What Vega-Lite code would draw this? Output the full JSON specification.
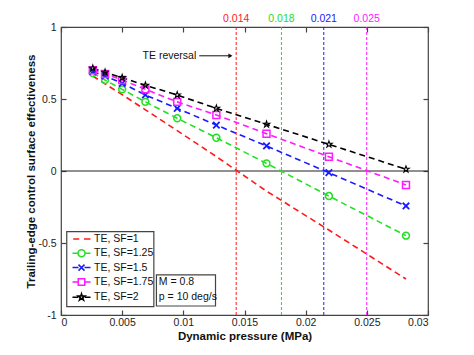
{
  "$schema": "https://vega.github.io/schema/vega-lite/v6.json",
  "width": 367,
  "height": 288,
  "autosize": {"type": "none"},
  "padding": {"left": 61, "top": 27, "right": 46, "bottom": 40},
  "background": "white",
  "config": {
    "font": "Liberation Sans",
    "view": {"stroke": "#444", "strokeWidth": 1.2},
    "axis": {
      "grid": false,
      "domain": false,
      "tickColor": "#444",
      "tickSize": -5,
      "tickWidth": 1.2,
      "labelFont": "Liberation Sans",
      "labelFontSize": 10.5,
      "labelColor": "#222",
      "titleFont": "Liberation Sans",
      "titleFontSize": 11.5,
      "titleFontWeight": "bold",
      "titleColor": "#111"
    }
  },
  "datasets": {
    "main": [
      {"q": 0.0026, "E": 0.66, "series": "TE, SF=1"},
      {"q": 0.0036, "E": 0.605, "series": "TE, SF=1"},
      {"q": 0.0050, "E": 0.53, "series": "TE, SF=1"},
      {"q": 0.0069, "E": 0.425, "series": "TE, SF=1"},
      {"q": 0.0095, "E": 0.28, "series": "TE, SF=1"},
      {"q": 0.0127, "E": 0.10, "series": "TE, SF=1"},
      {"q": 0.0168, "E": -0.14, "series": "TE, SF=1"},
      {"q": 0.0219, "E": -0.41, "series": "TE, SF=1"},
      {"q": 0.0282, "E": -0.75, "series": "TE, SF=1"},
      {"q": 0.0026, "E": 0.68, "series": "TE, SF=1.25"},
      {"q": 0.0036, "E": 0.632, "series": "TE, SF=1.25"},
      {"q": 0.0050, "E": 0.567, "series": "TE, SF=1.25"},
      {"q": 0.0069, "E": 0.48, "series": "TE, SF=1.25"},
      {"q": 0.0095, "E": 0.366, "series": "TE, SF=1.25"},
      {"q": 0.0127, "E": 0.231, "series": "TE, SF=1.25"},
      {"q": 0.0168, "E": 0.053, "series": "TE, SF=1.25"},
      {"q": 0.0219, "E": -0.174, "series": "TE, SF=1.25"},
      {"q": 0.0282, "E": -0.449, "series": "TE, SF=1.25"},
      {"q": 0.0026, "E": 0.69, "series": "TE, SF=1.5"},
      {"q": 0.0036, "E": 0.66, "series": "TE, SF=1.5"},
      {"q": 0.0050, "E": 0.609, "series": "TE, SF=1.5"},
      {"q": 0.0069, "E": 0.528, "series": "TE, SF=1.5"},
      {"q": 0.0095, "E": 0.435, "series": "TE, SF=1.5"},
      {"q": 0.0127, "E": 0.319, "series": "TE, SF=1.5"},
      {"q": 0.0168, "E": 0.174, "series": "TE, SF=1.5"},
      {"q": 0.0219, "E": -0.012, "series": "TE, SF=1.5"},
      {"q": 0.0282, "E": -0.243, "series": "TE, SF=1.5"},
      {"q": 0.0026, "E": 0.70, "series": "TE, SF=1.75"},
      {"q": 0.0036, "E": 0.674, "series": "TE, SF=1.75"},
      {"q": 0.0050, "E": 0.632, "series": "TE, SF=1.75"},
      {"q": 0.0069, "E": 0.567, "series": "TE, SF=1.75"},
      {"q": 0.0095, "E": 0.48, "series": "TE, SF=1.75"},
      {"q": 0.0127, "E": 0.389, "series": "TE, SF=1.75"},
      {"q": 0.0168, "E": 0.259, "series": "TE, SF=1.75"},
      {"q": 0.0219, "E": 0.099, "series": "TE, SF=1.75"},
      {"q": 0.0282, "E": -0.097, "series": "TE, SF=1.75"},
      {"q": 0.0026, "E": 0.713, "series": "TE, SF=2"},
      {"q": 0.0036, "E": 0.685, "series": "TE, SF=2"},
      {"q": 0.0050, "E": 0.648, "series": "TE, SF=2"},
      {"q": 0.0069, "E": 0.595, "series": "TE, SF=2"},
      {"q": 0.0095, "E": 0.528, "series": "TE, SF=2"},
      {"q": 0.0127, "E": 0.435, "series": "TE, SF=2"},
      {"q": 0.0168, "E": 0.324, "series": "TE, SF=2"},
      {"q": 0.0219, "E": 0.185, "series": "TE, SF=2"},
      {"q": 0.0282, "E": 0.012, "series": "TE, SF=2"}
    ],
    "reversal": [
      {"q": 0.01432, "label": "0.014", "series": "TE, SF=1"},
      {"q": 0.01802, "label": "0.018", "series": "TE, SF=1.25"},
      {"q": 0.02148, "label": "0.021", "series": "TE, SF=1.5"},
      {"q": 0.02499, "label": "0.025", "series": "TE, SF=1.75"}
    ],
    "one": [{}]
  },
  "resolve": {"axis": {"x": "independent", "y": "independent"}},
  "layer": [
    {
      "layer": [
        {
          "data": {"name": "reversal"},
          "mark": {"type": "rule", "strokeDash": [3, 2], "strokeWidth": 1},
          "encoding": {
            "x": {"field": "q", "type": "quantitative", "scale": {"domain": [0, 0.03], "nice": false},
                  "axis": {"title": "Dynamic pressure (MPa)", "values": [0, 0.005, 0.01, 0.015, 0.02, 0.025, 0.03], "labelExpr": "'' + datum.value", "labelPadding": 7, "titlePadding": 3}},
            "stroke": {"field": "series", "type": "nominal", "legend": null,
                      "scale": {"domain": ["TE, SF=2", "TE, SF=1.75", "TE, SF=1.5", "TE, SF=1.25", "TE, SF=1"], "range": ["#000000", "#ff1aff", "#1a1aff", "#22e022", "#ff1a1a"]}}
          }
        },
        {
          "data": {"name": "reversal"},
          "mark": {"type": "text", "baseline": "bottom", "dy": -3, "fontSize": 10.5, "clip": false},
          "encoding": {
            "x": {"field": "q", "type": "quantitative"},
            "y": {"datum": 1, "type": "quantitative"},
            "text": {"field": "label"},
            "fill": {"field": "series", "type": "nominal", "legend": null,
                     "scale": {"domain": ["TE, SF=2", "TE, SF=1.75", "TE, SF=1.5", "TE, SF=1.25", "TE, SF=1"], "range": ["#000000", "#ff1aff", "#1a1aff", "#22e022", "#ff1a1a"]}}
          }
        },
        {
          "data": {"name": "one"},
          "mark": {"type": "rule", "color": "#222", "strokeWidth": 1.1},
          "encoding": {"y": {"datum": 0, "type": "quantitative"}}
        },
        {
          "data": {"name": "main"},
          "mark": {"type": "line", "strokeDash": [6, 4], "strokeWidth": 1.6},
          "encoding": {
            "x": {"field": "q", "type": "quantitative"},
            "y": {"field": "E", "type": "quantitative", "scale": {"domain": [-1, 1], "nice": false},
                  "axis": {"title": "Trailing-edge control surface effectiveness", "values": [-1, -0.5, 0, 0.5, 1], "labelExpr": "'' + datum.value", "labelPadding": 10, "titlePadding": 1}},
            "stroke": {"field": "series", "type": "nominal", "legend": null}
          }
        },
        {
          "data": {"name": "main"},
          "transform": [{"filter": "datum.series == 'TE, SF=1.25'"}],
          "mark": {"type": "point", "filled": false, "shape": "circle", "size": 48, "strokeWidth": 1.5, "color": "#22e022", "opacity": 1},
          "encoding": {"x": {"field": "q", "type": "quantitative"}, "y": {"field": "E", "type": "quantitative"}}
        },
        {
          "data": {"name": "main"},
          "transform": [{"filter": "datum.series == 'TE, SF=1.5'"}],
          "mark": {"type": "point", "filled": false, "shape": "M-1,-1L1,1M-1,1L1,-1", "size": 42, "strokeWidth": 1.8, "color": "#1a1aff", "opacity": 1},
          "encoding": {"x": {"field": "q", "type": "quantitative"}, "y": {"field": "E", "type": "quantitative"}}
        },
        {
          "data": {"name": "main"},
          "transform": [{"filter": "datum.series == 'TE, SF=1.75'"}],
          "mark": {"type": "point", "filled": false, "shape": "square", "size": 48, "strokeWidth": 1.5, "color": "#ff1aff", "opacity": 1},
          "encoding": {"x": {"field": "q", "type": "quantitative"}, "y": {"field": "E", "type": "quantitative"}}
        },
        {
          "data": {"name": "main"},
          "transform": [{"filter": "datum.series == 'TE, SF=2'"}],
          "mark": {"type": "point", "filled": false, "shape": "M0,-1L0.225,-0.309L0.951,-0.309L0.363,0.118L0.588,0.809L0,0.382L-0.588,0.809L-0.363,0.118L-0.951,-0.309L-0.225,-0.309Z", "size": 45, "strokeWidth": 1.1, "color": "#000000", "opacity": 1},
          "encoding": {"x": {"field": "q", "type": "quantitative"}, "y": {"field": "E", "type": "quantitative"}}
        },
        {
          "data": {"name": "one"},
          "mark": {"type": "rect", "fill": "white", "stroke": "#444", "strokeWidth": 1.2},
          "encoding": {"x": {"datum": 0.00047, "type": "quantitative"}, "x2": {"datum": 0.00759}, "y": {"datum": -0.4215, "type": "quantitative"}, "y2": {"datum": -0.942}}
        },
        {
          "data": {"name": "main"},
          "mark": {"type": "point", "filled": false, "strokeWidth": 1.5, "opacity": 0},
          "encoding": {
            "x": {"field": "q", "type": "quantitative"},
            "y": {"field": "E", "type": "quantitative"},
            "color": {"field": "series", "type": "nominal",
                      "scale": {"domain": ["TE, SF=1", "TE, SF=1.25", "TE, SF=1.5", "TE, SF=1.75", "TE, SF=2"], "range": ["#ff1a1a", "#22e022", "#1a1aff", "#ff1aff", "#000000"]},
                      "legend": {"title": null, "orient": "bottom-left", "offset": 6, "padding": 5, "symbolSize": 100, "symbolStrokeWidth": 1.5, "symbolOpacity": 1, "labelFontSize": 10.5, "labelColor": "#111", "labelFont": "Liberation Sans", "labelOffset": 10, "rowPadding": 1.3}},
            "shape": {"field": "series", "type": "nominal",
                      "scale": {"domain": ["TE, SF=1", "TE, SF=1.25", "TE, SF=1.5", "TE, SF=1.75", "TE, SF=2"],
                                "range": [
                                  "M-0.95,0H0.25M1.2,0H2.5",
                                  "M-1.1,0H0M1.4,0H2.5M1.4,0A0.7,0.7,0,1,1,0,0A0.7,0.7,0,1,1,1.4,0",
                                  "M-1.1,0H0.1M1.3,0H2.5M0.1,-0.6L1.3,0.6M0.1,0.6L1.3,-0.6",
                                  "M-1.1,0H0.05M1.35,0H2.5M0.05,-0.65H1.35V0.65H0.05Z",
                                  "M-1.1,0H0.03M1.37,0H2.5M0.7,-0.7L0.858,-0.216L1.366,-0.216L0.954,0.083L1.112,0.566L0.7,0.267L0.288,0.566L0.446,0.083L0.034,-0.216L0.543,-0.216Z"
                                ]},
                      "legend": {"title": null}}
          }
        },
        {
          "data": {"name": "one"},
          "mark": {"type": "text", "text": "TE reversal", "align": "right", "baseline": "middle", "fontSize": 10.5, "color": "#111"},
          "encoding": {"x": {"datum": 0.01106, "type": "quantitative"}, "y": {"datum": 0.8, "type": "quantitative"}}
        },
        {
          "data": {"name": "one"},
          "mark": {"type": "rule", "color": "#111", "strokeWidth": 1},
          "encoding": {"x": {"datum": 0.0113, "type": "quantitative"}, "x2": {"datum": 0.0139}, "y": {"datum": 0.8, "type": "quantitative"}}
        },
        {
          "data": {"name": "one"},
          "mark": {"type": "point", "shape": "triangle-right", "filled": true, "size": 22, "color": "#111", "opacity": 1},
          "encoding": {"x": {"datum": 0.01385, "type": "quantitative"}, "y": {"datum": 0.8, "type": "quantitative"}}
        },
        {
          "data": {"name": "one"},
          "mark": {"type": "rect", "fill": "white", "stroke": "#444", "strokeWidth": 1.2},
          "encoding": {"x": {"datum": 0.0078, "type": "quantitative"}, "x2": {"datum": 0.01263}, "y": {"datum": -0.722, "type": "quantitative"}, "y2": {"datum": -0.9375}}
        },
        {
          "data": {"name": "one"},
          "mark": {"type": "text", "text": "M = 0.8", "align": "left", "baseline": "middle", "fontSize": 10.5, "color": "#111"},
          "encoding": {"x": {"datum": 0.0080, "type": "quantitative"}, "y": {"datum": -0.774, "type": "quantitative"}}
        },
        {
          "data": {"name": "one"},
          "mark": {"type": "text", "text": "p = 10 deg/s", "align": "left", "baseline": "middle", "fontSize": 10.5, "color": "#111"},
          "encoding": {"x": {"datum": 0.0080, "type": "quantitative"}, "y": {"datum": -0.877, "type": "quantitative"}}
        }
      ]
    },
    {
      "data": {"name": "one"},
      "mark": {"type": "rule", "opacity": 0},
      "encoding": {
        "x": {"datum": 0, "type": "quantitative", "scale": {"domain": [0, 0.03], "nice": false},
              "axis": {"orient": "top", "title": null, "labels": false, "values": [0, 0.005, 0.01, 0.015, 0.02, 0.025, 0.03]}},
        "x2": {"datum": 0.03},
        "y": {"datum": 0, "type": "quantitative", "scale": {"domain": [-1, 1], "nice": false},
              "axis": {"orient": "right", "title": null, "labels": false, "values": [-1, -0.5, 0, 0.5, 1]}}
      }
    }
  ]
}
